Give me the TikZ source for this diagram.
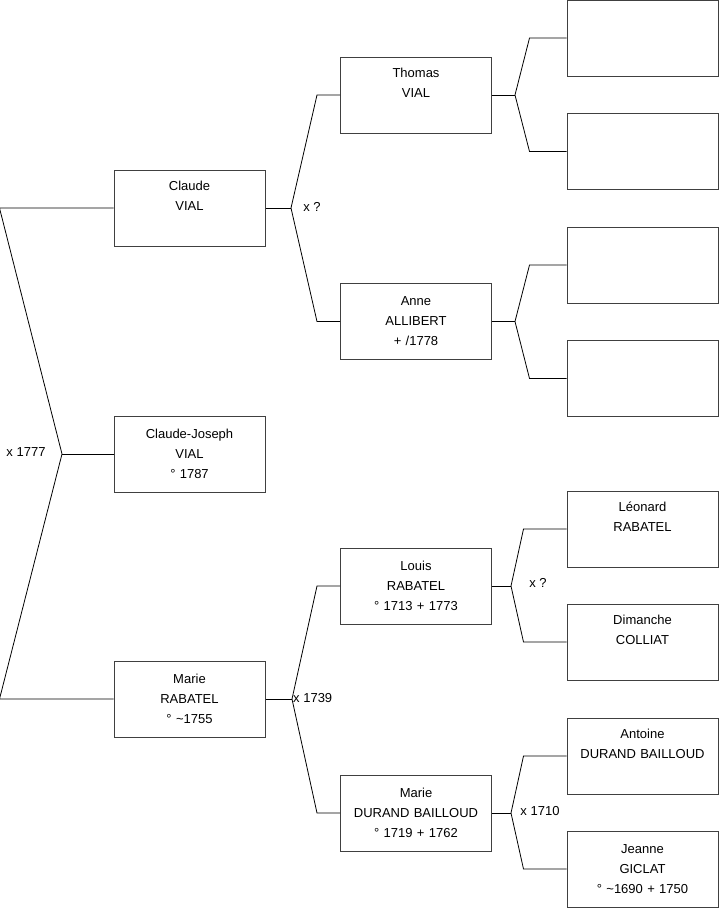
\documentclass[tikz,border=0pt]{standalone}
\usepackage{fontspec}
\setmainfont{Liberation Sans}
\usetikzlibrary{calc}

\begin{document}
\begin{tikzpicture}[x=1pt,y=-1pt,
  person/.style={draw=black!75,line width=1pt,minimum width=151pt,minimum height=76pt,text width=145pt,align=center,inner sep=0pt,font=\fontsize{13}{20}\selectfont},
  union/.style={inner sep=0pt,font=\fontsize{13}{15}\selectfont},
  link/.style={draw=black,line width=0.8pt}]
\useasboundingbox (0,0) rectangle (719,908);
\node[person] (claude) at (189.5,208) {Claude\\VIAL\\[4pt]~};
\node[person] (cjoseph) at (189.5,454) {Claude-Joseph\\VIAL\\° 1787};
\node[person] (marie) at (189.5,699) {Marie\\RABATEL\\° \textasciitilde1755};
\node[person] (thomas) at (416,95) {Thomas\\VIAL\\[4pt]~};
\node[person] (anne) at (416,321.5) {Anne\\ALLIBERT\\+ /1778};
\node[person] (louis) at (416,586) {Louis\\RABATEL\\° 1713 + 1773};
\node[person] (mdurand) at (416,813) {Marie\\DURAND BAILLOUD\\° 1719 + 1762};
\node[person] (thomasF) at (642.5,38) {};
\node[person] (thomasM) at (642.5,151.5) {};
\node[person] (anneF) at (642.5,265) {};
\node[person] (anneM) at (642.5,378.5) {};
\node[person] (leonard) at (642.5,529) {Léonard\\RABATEL\\[4pt]~};
\node[person] (dimanche) at (642.5,642) {Dimanche\\COLLIAT\\[4pt]~};
\node[person] (antoine) at (642.5,756) {Antoine\\DURAND BAILLOUD\\[4pt]~};
\node[person] (jeanne) at (642.5,869) {Jeanne\\GICLAT\\° \textasciitilde1690 + 1750};
\coordinate (jA) at (62,454);
\coordinate (jB) at (291,208);
\coordinate (jC) at (292,699);
\coordinate (jD) at (515,95);
\coordinate (jE) at (515,321.5);
\coordinate (jF) at (511,586);
\coordinate (jG) at (511,813);
\node[union] (uA) at (26,452) {x 1777};
\node[union] (uB) at (312,207) {x ?};
\node[union,anchor=west] (uC) at (293,698) {x 1739};
\node[union] (uF) at (538,583) {x ?};
\node[union] (uG) at (540,811) {x 1710};
\draw[link] (claude.west) -- ($(claude.west)+(-114,0)$) -- (jA) -- ($(marie.west)+(-114,0)$) -- (marie.west);
\draw[link] (jA) -- (cjoseph.west);
\draw[link] (claude.east) -- (jB);
\draw[link] (thomas.west) -- ++(-23,0) -- (jB) -- ($(anne.west)+(-23,0)$) -- (anne.west);
\draw[link] (marie.east) -- (jC);
\draw[link] (louis.west) -- ++(-23,0) -- (jC) -- ($(mdurand.west)+(-23,0)$) -- (mdurand.west);
\draw[link] (thomas.east) -- (jD);
\draw[link] (thomasF.west) -- ++(-37,0) -- (jD) -- ($(thomasM.west)+(-37,0)$) -- (thomasM.west);
\draw[link] (anne.east) -- (jE);
\draw[link] (anneF.west) -- ++(-37,0) -- (jE) -- ($(anneM.west)+(-37,0)$) -- (anneM.west);
\draw[link] (louis.east) -- (jF);
\draw[link] (leonard.west) -- ++(-43,0) -- (jF) -- ($(dimanche.west)+(-43,0)$) -- (dimanche.west);
\draw[link] (mdurand.east) -- (jG);
\draw[link] (antoine.west) -- ++(-43,0) -- (jG) -- ($(jeanne.west)+(-43,0)$) -- (jeanne.west);
\end{tikzpicture}
\end{document}
